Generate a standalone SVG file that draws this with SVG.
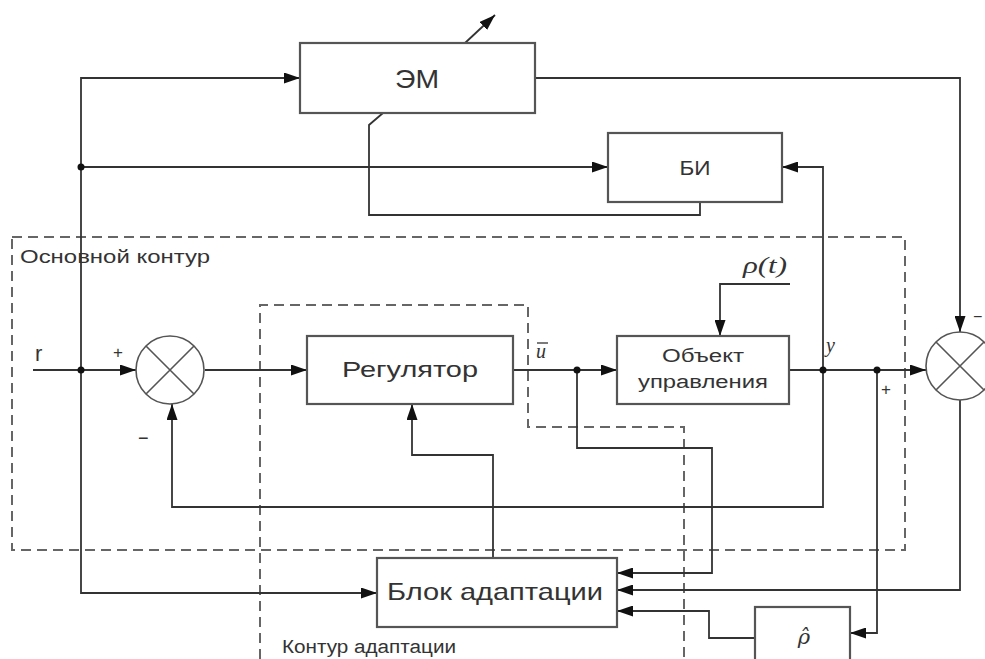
<svg xmlns="http://www.w3.org/2000/svg" width="985" height="659" viewBox="0 0 985 659">
<style>
.box{fill:#fff;stroke:#555;stroke-width:2.2}
.ln{fill:none;stroke:#333;stroke-width:1.8}
.dash{fill:none;stroke:#666;stroke-width:2;stroke-dasharray:10,6}
.t{font-family:"Liberation Sans",Arial,sans-serif;fill:#333}
.m{font-family:"Liberation Serif","Times New Roman",serif;font-style:italic;fill:#333}
.dot{fill:#111}
</style>
<defs>
<marker id="a" viewBox="0 0 16 11" refX="16" refY="5.5" markerWidth="16" markerHeight="11" markerUnits="userSpaceOnUse" orient="auto">
<path d="M0,0 L16,5.5 L0,11 z" fill="#111"/>
</marker>
</defs>
<rect width="985" height="659" fill="#fff"/>
<g id="containers">
<rect class="dash" x="12" y="237" width="893" height="313"/>
<path class="dash" d="M260,659 V305 H528 V427 H684 V659"/>
<text class="t" x="20" y="263" font-size="18" textLength="190" lengthAdjust="spacingAndGlyphs">Основной контур</text>
<text class="t" x="282" y="653" font-size="18" textLength="174" lengthAdjust="spacingAndGlyphs">Контур адаптации</text>
</g>
<g id="connectors">
<path class="ln" d="M33,370 H136" marker-end="url(#a)"/>
<path class="ln" d="M205,370 H307" marker-end="url(#a)"/>
<path class="ln" d="M513,370 H617" marker-end="url(#a)"/>
<path class="ln" d="M789,370 H926" marker-end="url(#a)"/>
<path class="ln" d="M81,370 V78 H300" marker-end="url(#a)"/>
<path class="ln" d="M81,370 V593 H377" marker-end="url(#a)"/>
<path class="ln" d="M81,167 H608" marker-end="url(#a)"/>
<path class="ln" d="M823,370 V507 H172 V404" marker-end="url(#a)"/>
<path class="ln" d="M823,370 V167 H782" marker-end="url(#a)"/>
<path class="ln" d="M535,78 H960 V332" marker-end="url(#a)"/>
<path class="ln" d="M383,113 L369,125 V215 H700 V202"/>
<path class="ln" d="M465,43 L495,15" marker-end="url(#a)"/>
<path class="ln" d="M790,284 H720 V336" marker-end="url(#a)"/>
<path class="ln" d="M577,370 V448 H712 V573 H617" marker-end="url(#a)"/>
<path class="ln" d="M960,400 V590 H617" marker-end="url(#a)"/>
<path class="ln" d="M755,638 H709 V611 H617" marker-end="url(#a)"/>
<path class="ln" d="M877,370 V633 H850" marker-end="url(#a)"/>
<path class="ln" d="M493,558 V455 H412 V404" marker-end="url(#a)"/>
<circle class="dot" cx="81" cy="167" r="3.5"/>
<circle class="dot" cx="81" cy="370" r="3.5"/>
<circle class="dot" cx="577" cy="370" r="3.5"/>
<circle class="dot" cx="823" cy="370" r="3.5"/>
<circle class="dot" cx="877" cy="370" r="3.5"/>
<text class="t" x="35" y="361" font-size="22">r</text>
<text class="t" x="113" y="358" font-size="17">+</text>
<text class="t" x="138" y="444" font-size="18">−</text>
<line x1="537" y1="343" x2="548" y2="343" stroke="#333" stroke-width="1.3"/>
<text class="m" x="536" y="358" font-size="20">u</text>
<text class="m" x="826" y="352" font-size="20">y</text>
<text class="t" x="881" y="395" font-size="17">+</text>
<text class="t" x="973" y="322" font-size="16">−</text>
<text class="m" x="743" y="273" font-size="23" textLength="44" lengthAdjust="spacingAndGlyphs">ρ(t)</text>
</g>
<g id="sum1">
<circle cx="170" cy="370" r="34" fill="#fff" stroke="#555" stroke-width="1.6"/>
<path d="M146,346 L194,394 M194,346 L146,394" stroke="#555" stroke-width="1.6"/>
</g>
<g id="sum2">
<circle cx="960" cy="366" r="34" fill="#fff" stroke="#555" stroke-width="1.6"/>
<path d="M936,342 L984,390 M984,342 L936,390" stroke="#555" stroke-width="1.6"/>
</g>
<g id="em">
<rect class="box" x="300" y="43" width="235" height="70"/>
<text class="t" x="417" y="88" font-size="25" text-anchor="middle" textLength="44" lengthAdjust="spacingAndGlyphs">ЭМ</text>
</g>
<g id="bi">
<rect class="box" x="608" y="133" width="174" height="69"/>
<text class="t" x="695" y="175" font-size="21" text-anchor="middle" textLength="31" lengthAdjust="spacingAndGlyphs">БИ</text>
</g>
<g id="reg">
<rect class="box" x="307" y="336" width="206" height="68"/>
<text class="t" x="410" y="377" font-size="22" text-anchor="middle" textLength="136" lengthAdjust="spacingAndGlyphs">Регулятор</text>
</g>
<g id="obj">
<rect class="box" x="617" y="336" width="172" height="68"/>
<text class="t" x="703" y="362" font-size="18" text-anchor="middle" textLength="82" lengthAdjust="spacingAndGlyphs">Объект</text>
<text class="t" x="703" y="388" font-size="18" text-anchor="middle" textLength="130" lengthAdjust="spacingAndGlyphs">управления</text>
</g>
<g id="adapt">
<rect class="box" x="377" y="558" width="240" height="69"/>
<text class="t" x="495" y="600" font-size="24" text-anchor="middle" textLength="216" lengthAdjust="spacingAndGlyphs">Блок адаптации</text>
</g>
<g id="rhohat">
<rect class="box" x="755" y="607" width="95" height="60"/>
<text x="804" y="644" font-size="21" text-anchor="middle" font-family="'DejaVu Serif',serif" font-style="italic" fill="#333">ρ̂</text>
</g>
</svg>
